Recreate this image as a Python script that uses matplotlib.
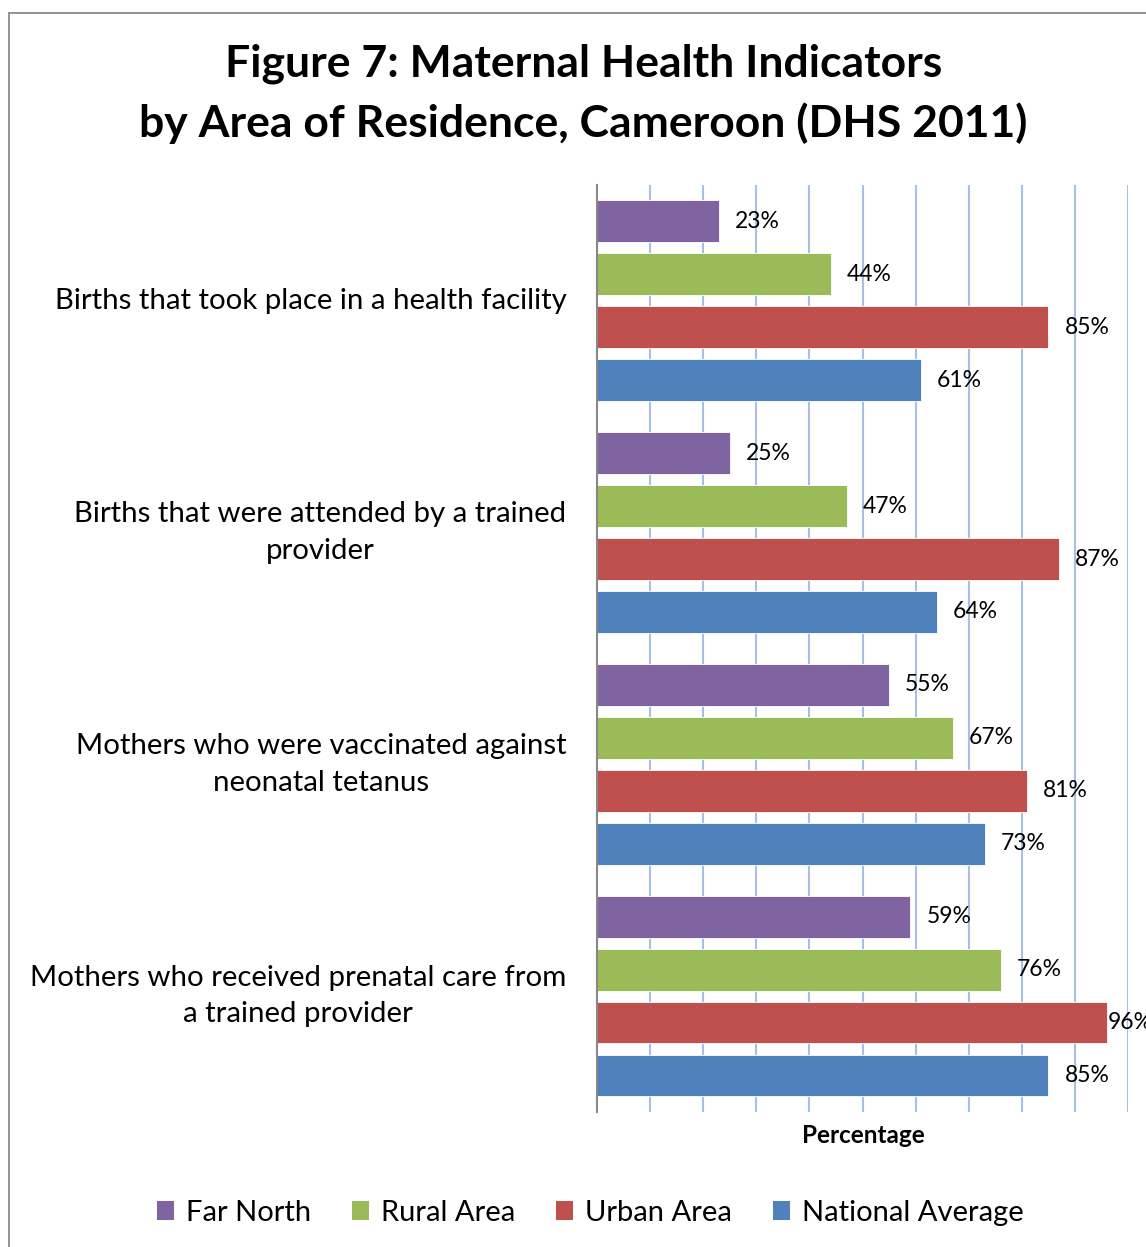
import matplotlib.pyplot as plt
from matplotlib.patches import Rectangle, Patch

plt.rcParams['font.family'] = ['Lato', 'DejaVu Sans']

categories = [
    "Births that took place in a health facility",
    "Births that were attended by a trained\nprovider",
    "Mothers who were vaccinated against\nneonatal tetanus",
    "Mothers who received prenatal care from\na trained provider",
]
series_names = ["Far North", "Rural Area", "Urban Area", "National Average"]
far_north = [23, 25, 55, 59]
rural = [44, 47, 67, 76]
urban = [85, 87, 81, 96]
national = [61, 64, 73, 85]
colors = ["#8064A2", "#9BBB59", "#C0504D", "#4F81BD"]

fig = plt.figure(figsize=(11.46, 12.47), dpi=100)
ax = fig.add_axes([0.521, 0.1083, 0.4634, 0.7434])

# outer frame of the chart (runs off the right/bottom edge)
fig.patches.append(Rectangle((0.0079, -0.5), 1.5, 0.5 + 0.9896, transform=fig.transFigure,
                             fill=False, edgecolor="#8a8a8a", linewidth=1.3))

slot = 4.377
bar_h = 0.79
all_series = [far_north, rural, urban, national]
for s, (vals, name, col) in enumerate(zip(all_series, series_names, colors)):
    ys = [(c + 0.5) * slot + (s - 1.5) for c in range(len(categories))]
    ax.barh(ys, vals, height=bar_h, color=col, edgecolor="white", linewidth=0.6,
            label=name, zorder=3)
    for y, v in zip(ys, vals):
        # labels near the right edge get pulled in, like the original
        ax.text(min(v + 3.0, 96.2), y, f"{v}%", va="center", ha="left", fontsize=16.5,
                zorder=4, clip_on=False)

ax.set_xlim(0, 100)
ax.set_ylim(len(categories) * slot, 0)
ax.set_xticks(range(10, 101, 10))
ax.xaxis.grid(True, color="#A9C0E6", linewidth=1.5, zorder=0)
ax.set_yticks([])
ax.tick_params(axis="x", length=0, labelbottom=False)
for sp in ["top", "right", "bottom"]:
    ax.spines[sp].set_visible(False)
ax.spines["left"].set_color("#888888")
ax.spines["left"].set_linewidth(1.5)
ax.spines["left"].set_zorder(5)

for c, lab in enumerate(categories):
    ax.text(-5.8, (c + 0.5) * slot, lab, ha="right", va="center", fontsize=21.2,
            multialignment="center", linespacing=1.5, clip_on=False)

fig.text(0.509, 0.9485, "Figure 7: Maternal Health Indicators", ha="center", va="center",
         fontsize=32, fontweight="bold")
fig.text(0.509, 0.9015, "by Area of Residence, Cameroon (DHS 2011)", ha="center", va="center",
         fontsize=32, fontweight="bold")

fig.text(0.753, 0.0893, "Percentage", ha="center", va="center", fontsize=17.5, fontweight="bold")

handles = [Patch(facecolor=c, edgecolor="none") for c in colors]
fig.legend(handles, series_names, loc="center", bbox_to_anchor=(0.515, 0.0275), ncol=4,
           frameon=False, fontsize=21, handlelength=0.6, handleheight=0.6,
           handletextpad=0.4, columnspacing=1.4)

fig.savefig("out.png", dpi=100)
